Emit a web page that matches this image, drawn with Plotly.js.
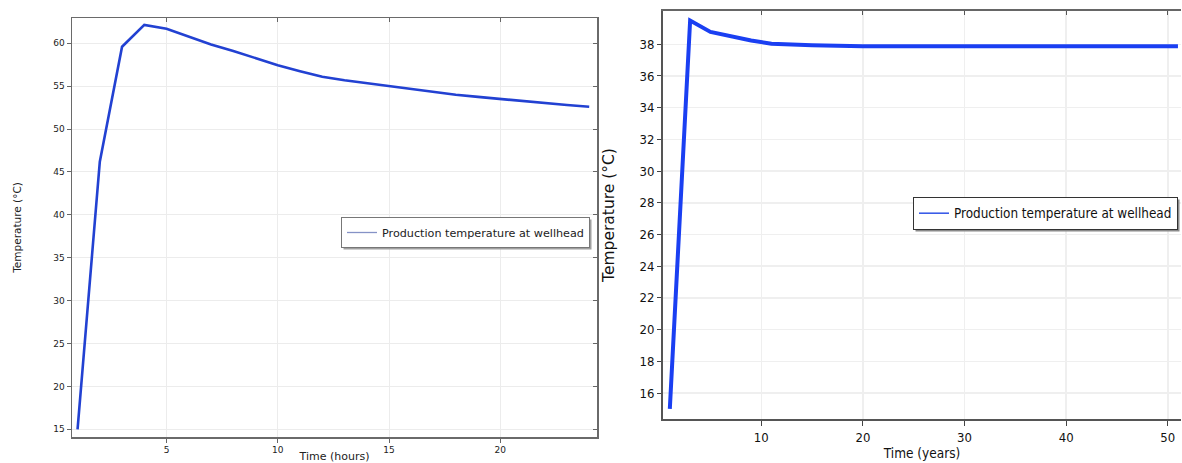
<!DOCTYPE html>
<html>
<head>
<meta charset="utf-8">
<script src="https://cdn.plot.ly/plotly-3.0.1.min.js"></script>
<style>html,body{margin:0;padding:0;background:#fff;}#chart{width:1182px;height:463px;}</style>
</head>
<body>
<div id="chart"></div>
<script>
// Left chart: production temperature over hours
const hours = [1,2,3,4,5,6,7,8,9,10,11,12,13,14,15,16,17,18,19,20,21,22,23,24];
const tempHours = [15,46.2,59.6,62.15,61.7,60.8,59.85,59.1,58.3,57.45,56.75,56.1,55.7,55.35,55.0,54.65,54.3,54.0,53.75,53.5,53.25,53.0,52.8,52.6];
// Right chart: production temperature over years
const years = [1,3,5,7,9,11,13,15,20,25,30,35,40,45,51];
const tempYears = [15,39.5,38.78,38.48,38.24,38.04,37.98,37.94,37.88,37.86,37.87,37.88,37.88,37.88,37.88];
const seriesName = 'Production temperature at wellhead';
const leftXTicks = [5,10,15,20];
const leftYTicks = [15,20,25,30,35,40,45,50,55,60];
const rightXTicks = [10,20,30,40,50];
const rightYTicks = [16,18,20,22,24,26,28,30,32,34,36,38];

const W = 1182, H = 463;
const px = v => v / W;
const py = v => (H - v) / H;

const DJ = 'DejaVu Sans, sans-serif';
const DJC = 'DejaVu Sans Condensed, DejaVu Sans, sans-serif';
const leftFont = {family: DJ, size: 9, color: '#222'};
const rightFont = {family: DJC, size: 13, color: '#111'};

const ghost = {type: 'scatter', mode: 'lines', showlegend: false, hoverinfo: 'skip',
  line: {width: 0, color: 'rgba(0,0,0,0)'}, opacity: 0};

const traces = [
  {x: hours, y: tempHours, xaxis: 'x', yaxis: 'y', type: 'scatter', mode: 'lines',
   name: seriesName, showlegend: false, line: {color: '#2241d2', width: 2.6}},
  {x: years, y: tempYears, xaxis: 'x2', yaxis: 'y2', type: 'scatter', mode: 'lines',
   name: seriesName, showlegend: false, line: {color: '#1a3ff2', width: 4}},
  // legend entries (thin sample lines, as in the original)
  {x: [null], y: [null], xaxis: 'x', yaxis: 'y', type: 'scatter', mode: 'lines',
   name: seriesName, legend: 'legend', line: {color: '#8592c6', width: 1.3}},
  {x: [null], y: [null], xaxis: 'x2', yaxis: 'y2', type: 'scatter', mode: 'lines',
   name: seriesName, legend: 'legend2', line: {color: '#3b5ce8', width: 1.6}},
  Object.assign({x: hours, y: tempHours, xaxis: 'x3', yaxis: 'y'}, ghost),
  Object.assign({x: hours, y: tempHours, xaxis: 'x', yaxis: 'y3'}, ghost),
  Object.assign({x: years, y: tempYears, xaxis: 'x4', yaxis: 'y2'}, ghost)
];

const lDomX = [px(72), px(597)], lDomY = [py(437), py(18)];
const rDomX = [px(663), px(1181)], rDomY = [py(419), py(11)];
const lxr = [0.75, 24.35], lyr = [14.1, 62.95];
const rxr = [0.33, 51.3], ryr = [14.36, 40.1];

const layout = {
  width: W, height: H,
  margin: {l: 0, r: 0, t: 0, b: 0},
  paper_bgcolor: '#fff', plot_bgcolor: '#fff',
  showlegend: true,
  xaxis: {domain: lDomX, range: lxr, anchor: 'y', automargin: false, tickvals: leftXTicks, ticks: 'outside', ticklen: 4,
    tickcolor: '#666', showline: true, linecolor: '#6a6a6a', linewidth: 1.5, showgrid: true,
    gridcolor: '#ececec', gridwidth: 1, zeroline: false, tickfont: leftFont,
    title: {text: 'Time (hours)', font: {family: DJ, size: 11, color: '#222'}, standoff: 1}},
  yaxis: {domain: lDomY, range: lyr, anchor: 'x', automargin: false, tickvals: leftYTicks, ticks: 'outside', ticklen: 4,
    tickcolor: '#666', showline: true, linecolor: '#6a6a6a', linewidth: 1.5, showgrid: true,
    gridcolor: '#ececec', gridwidth: 1, zeroline: false, tickfont: leftFont,
    title: {text: 'Temperature (°C)', font: {family: DJ, size: 10.5, color: '#222'}, standoff: 29}},
  xaxis3: {overlaying: 'x', side: 'top', anchor: 'y', automargin: false, range: lxr, tickvals: leftXTicks, ticks: 'inside',
    ticklen: 4, tickcolor: '#666', showticklabels: false, showline: true, linecolor: '#6a6a6a',
    linewidth: 1.5, showgrid: false, zeroline: false},
  yaxis3: {overlaying: 'y', side: 'right', anchor: 'x', automargin: false, range: lyr, tickvals: leftYTicks, ticks: 'inside',
    ticklen: 4, tickcolor: '#666', showticklabels: false, showline: true, linecolor: '#6a6a6a',
    linewidth: 1.5, showgrid: false, zeroline: false},

  xaxis2: {domain: rDomX, range: rxr, anchor: 'y2', automargin: false, tickvals: rightXTicks, ticks: 'outside', ticklen: 5,
    tickcolor: '#444', showline: true, linecolor: '#555', linewidth: 2, showgrid: true,
    gridcolor: '#efefef', gridwidth: 1.5, zeroline: false, tickfont: rightFont,
    title: {text: 'Time (years)', font: {family: DJC, size: 13.5, color: '#111'}, standoff: 2}},
  yaxis2: {domain: rDomY, range: ryr, anchor: 'x2', automargin: false, tickvals: rightYTicks, ticks: 'outside', ticklen: 4,
    tickcolor: '#444', showline: true, linecolor: '#555', linewidth: 2, showgrid: true,
    gridcolor: '#efefef', gridwidth: 1.5, zeroline: false, tickfont: rightFont,
    title: {text: 'Temperature (°C)', font: {family: DJ, size: 15.5, color: '#111'}, standoff: 21}},
  xaxis4: {overlaying: 'x2', side: 'top', anchor: 'y2', automargin: false, range: rxr, tickvals: rightXTicks, ticks: 'inside',
    ticklen: 4, tickcolor: '#555', showticklabels: false, showline: true, linecolor: '#666',
    linewidth: 2, showgrid: false, zeroline: false},

  legend: {x: px(590), y: py(217), xanchor: 'right', yanchor: 'top', bgcolor: '#fff',
    bordercolor: '#777', borderwidth: 1, font: {family: DJ, size: 11.2, color: '#222'},
    itemwidth: 30, tracegroupgap: 0},
  legend2: {x: px(1178), y: py(197), xanchor: 'right', yanchor: 'top', bgcolor: '#fff',
    bordercolor: '#333', borderwidth: 1, font: {family: DJC, size: 13.4, color: '#111'},
    itemwidth: 30, tracegroupgap: 0}
};

Plotly.newPlot('chart', traces, layout, {displayModeBar: false, staticPlot: true}).then(gd => {
  // soft drop shadows behind the legend boxes
  const shapes = [];
  const root = gd.getBoundingClientRect();
  gd.querySelectorAll('g.legend > rect.bg, g.legend2 > rect.bg, g[class^="legend"] > rect.bg').forEach((r) => {
    if (shapes.some(s => s._el === r)) return;
    const b = r.getBoundingClientRect();
    if (!b.width) return;
    const x0 = b.left - root.left + 2, x1 = b.right - root.left + 2;
    const y0 = b.top - root.top + 2, y1 = b.bottom - root.top + 2;
    const s = {type: 'rect', xref: 'paper', yref: 'paper', x0: px(x0), x1: px(x1), y0: py(y1), y1: py(y0),
      fillcolor: x0 < 620 ? '#a0a0a0' : '#8a8a8a', line: {width: 0}, layer: 'above'};
    Object.defineProperty(s, '_el', {value: r, enumerable: false});
    shapes.push(s);
  });
  const clean = shapes.map(s => ({type: s.type, xref: s.xref, yref: s.yref, x0: s.x0, x1: s.x1, y0: s.y0, y1: s.y1,
    fillcolor: s.fillcolor, line: s.line, layer: s.layer}));
  return Plotly.relayout(gd, {shapes: clean});
});
</script>
</body>
</html>
